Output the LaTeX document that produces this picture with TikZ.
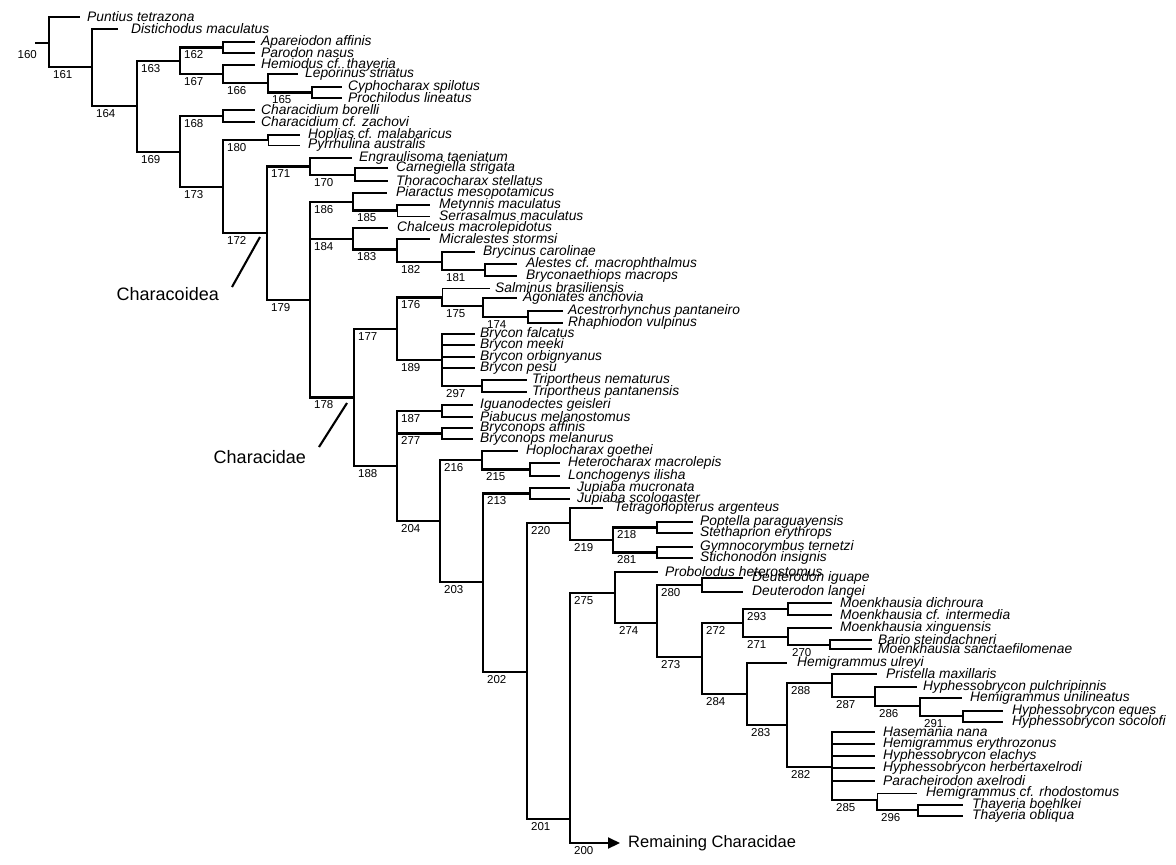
\documentclass[tikz,border=0pt]{standalone}
\usepackage{fontspec}
\setmainfont{Liberation Sans}
\usetikzlibrary{arrows.meta}
\newcommand\cbr[3]{\draw[br] (#1) |- (#2); \node[nlab] (l#3) at (#1 |- #2) {#3};}
\newcommand\clf[7][br]{\node[leaf, inner xsep=#6pt] (#2) at (#4,#5) {#7}; \draw[#1] (#3) |- (#2.west);}
\begin{document}
\begin{tikzpicture}[x=1pt,y=-1pt,
 br/.style={line width=2.1pt},
 thinbr/.style={line width=1pt},
 leaf/.style={anchor=west, inner ysep=0pt, font=\fontsize{13.8}{14}\selectfont\itshape},
 nlab/.style={anchor=north west, inner sep=0pt, xshift=4pt, yshift=-3pt, font=\fontsize{11.5}{12}\selectfont},
 big/.style={font=\fontsize{18}{18}\selectfont, inner sep=0pt},
 ptr/.style={line width=2.1pt}]
\useasboundingbox[fill=white] (0,0) rectangle (1176,865);
% internal nodes
\coordinate (root) at (35,43);
\coordinate (n160) at (49,43);
\coordinate (n161) at (92,67);
\coordinate (n164) at (137,106);
\coordinate (n163) at (180,61);
\coordinate (n162) at (223,47.5);
\coordinate (n167) at (223,74);
\coordinate (n166) at (268,83);
\coordinate (n165) at (312,92.5);
\coordinate (n169) at (180,152);
\coordinate (n168) at (223,116);
\coordinate (n173) at (223,187);
\coordinate (n180) at (268,140);
\coordinate (n172) at (267,233);
\coordinate (n171) at (310,166.5);
\coordinate (n170) at (355,175);
\coordinate (n179) at (310,300);
\coordinate (n186) at (353,202);
\coordinate (n185) at (397,210.5);
\coordinate (n184) at (353,239);
\coordinate (n183) at (397,249.5);
\coordinate (n182) at (442,262);
\coordinate (n181) at (485,270);
\coordinate (n178) at (354,397.5);
\coordinate (n177) at (397,329);
\coordinate (n176) at (442,297.5);
\coordinate (n175) at (483,306);
\coordinate (n174) at (528,317);
\coordinate (n189) at (442,360);
\coordinate (n297) at (482,386);
\coordinate (n188) at (397,466);
\coordinate (n187) at (442,411);
\coordinate (n277) at (442,433.5);
\coordinate (n204) at (440,521);
\coordinate (n216) at (482,460);
\coordinate (n215) at (530,469.5);
\coordinate (n203) at (483,582);
\coordinate (n213) at (530,493.5);
\coordinate (n202) at (527,672);
\coordinate (n220) at (570,523);
\coordinate (n219) at (613,540);
\coordinate (n218) at (657,527.5);
\coordinate (n281) at (657,552.5);
\coordinate (n201) at (570,819);
\coordinate (n275) at (615,593);
\coordinate (n274) at (657,623);
\coordinate (n280) at (702,585);
\coordinate (n273) at (702,657);
\coordinate (n272) at (743,623);
\coordinate (n293) at (788,609);
\coordinate (n271) at (788,637);
\coordinate (n270) at (830,645);
\coordinate (n284) at (747,694);
\coordinate (n283) at (787,725);
\coordinate (n288) at (832,683);
\coordinate (n287) at (875,697);
\coordinate (n286) at (920,706);
\coordinate (n291) at (963,716);
\coordinate (n282) at (832,767);
\coordinate (n285) at (877,800);
\coordinate (n296) at (918,810);
% root
\draw[br] (root) -- (n160);
\node[nlab, anchor=north east, xshift=-2pt, yshift=-4pt] (l160) at (root) {160};
% branches
\cbr{n160}{n161}{161}
\cbr{n161}{n164}{164}
\cbr{n164}{n163}{163}
\cbr{n163}{n162}{162}
\cbr{n163}{n167}{167}
\cbr{n167}{n166}{166}
\cbr{n166}{n165}{165}
\cbr{n164}{n169}{169}
\cbr{n169}{n168}{168}
\cbr{n169}{n173}{173}
\cbr{n173}{n180}{180}
\cbr{n173}{n172}{172}
\cbr{n172}{n171}{171}
\cbr{n171}{n170}{170}
\cbr{n172}{n179}{179}
\cbr{n179}{n186}{186}
\cbr{n186}{n185}{185}
\cbr{n179}{n184}{184}
\cbr{n184}{n183}{183}
\cbr{n183}{n182}{182}
\cbr{n182}{n181}{181}
\cbr{n179}{n178}{178}
\cbr{n178}{n177}{177}
\cbr{n177}{n176}{176}
\cbr{n176}{n175}{175}
\cbr{n175}{n174}{174}
\cbr{n177}{n189}{189}
\cbr{n189}{n297}{297}
\cbr{n178}{n188}{188}
\cbr{n188}{n187}{187}
\cbr{n188}{n277}{277}
\cbr{n188}{n204}{204}
\cbr{n204}{n216}{216}
\cbr{n216}{n215}{215}
\cbr{n204}{n203}{203}
\cbr{n203}{n213}{213}
\cbr{n203}{n202}{202}
\cbr{n202}{n220}{220}
\cbr{n220}{n219}{219}
\cbr{n219}{n218}{218}
\cbr{n219}{n281}{281}
\cbr{n202}{n201}{201}
\cbr{n201}{n275}{275}
\cbr{n275}{n274}{274}
\cbr{n274}{n280}{280}
\cbr{n274}{n273}{273}
\cbr{n273}{n272}{272}
\cbr{n272}{n293}{293}
\cbr{n272}{n271}{271}
\cbr{n271}{n270}{270}
\cbr{n273}{n284}{284}
\cbr{n284}{n283}{283}
\cbr{n283}{n288}{288}
\cbr{n288}{n287}{287}
\cbr{n287}{n286}{286}
\cbr{n286}{n291}{291}
\cbr{n283}{n282}{282}
\cbr{n282}{n285}{285}
\cbr{n285}{n296}{296}
% leaves
\clf{t1}{n160}{80}{17}{7}{Puntius tetrazona}
\clf{t2}{n161}{118}{29}{13}{Distichodus maculatus}
\clf{t3}{n162}{255}{42}{6}{Apareiodon affinis}
\clf{t4}{n162}{255}{53}{6}{Parodon nasus}
\clf{t5}{n167}{255}{65}{6}{Hemiodus cf. thayeria}
\clf{t6}{n166}{298}{74}{7}{Leporinus striatus}
\clf{t7}{n165}{342}{87}{6}{Cyphocharax spilotus}
\clf{t8}{n165}{342}{98}{6}{Prochilodus lineatus}
\clf{t9}{n168}{255}{110}{6}{Characidium borelli}
\clf{t10}{n168}{255}{122}{6}{Characidium cf. zachovi}
\clf{t11}{n180}{300}{135}{8}{Hoplias cf. malabaricus}
\clf[thinbr]{t12}{n180}{300}{145}{8}{Pyrrhulina australis}
\clf{t13}{n171}{352}{158}{7}{Engraulisoma taeniatum}
\clf{t14}{n170}{388}{168}{8}{Carnegiella strigata}
\clf{t15}{n170}{388}{181}{8}{Thoracocharax stellatus}
\clf{t16}{n186}{387}{193}{9}{Piaractus mesopotamicus}
\clf{t17}{n185}{430}{205}{9}{Metynnis maculatus}
\clf[thinbr]{t18}{n185}{430}{216}{9}{Serrasalmus maculatus}
\clf{t19}{n184}{388}{228}{9}{Chalceus macrolepidotus}
\clf{t20}{n183}{430}{239}{9}{Micralestes stormsi}
\clf{t21}{n182}{475}{252}{8}{Brycinus carolinae}
\clf{t22}{n181}{517}{264}{9}{Alestes cf. macrophthalmus}
\clf{t23}{n181}{517}{276}{9}{Bryconaethiops macrops}
\clf[thinbr]{t24}{n176}{490}{288}{5}{Salminus brasiliensis}
\clf{t25}{n175}{517}{298}{6}{Agoniates anchovia}
\clf{t26}{n174}{563}{311}{5}{Acestrorhynchus pantaneiro}
\clf{t27}{n174}{563}{323}{5}{Rhaphiodon vulpinus}
\clf{t28}{n189}{475}{334}{5}{Brycon falcatus}
\clf{t29}{n189}{475}{345}{5}{Brycon meeki}
\clf{t30}{n189}{475}{357}{5}{Brycon orbignyanus}
\clf{t31}{n189}{475}{368}{5}{Brycon pesu}
\clf{t32}{n297}{527}{380}{5}{Triportheus nematurus}
\clf{t33}{n297}{527}{392}{5}{Triportheus pantanensis}
\clf{t34}{n187}{473}{405}{7}{Iguanodectes geisleri}
\clf{t35}{n187}{473}{417}{7}{Piabucus melanostomus}
\clf{t36}{n277}{473}{428}{7}{Bryconops affinis}
\clf{t37}{n277}{473}{439}{7}{Bryconops melanurus}
\clf{t38}{n216}{518}{451}{8}{Hoplocharax goethei}
\clf{t39}{n215}{560}{463}{8}{Heterocharax macrolepis}
\clf{t40}{n215}{560}{476}{8}{Lonchogenys ilisha}
\clf{t41}{n213}{570}{488}{7}{Jupiaba mucronata}
\clf{t42}{n213}{570}{499}{7}{Jupiaba scologaster}
\clf{t43}{n220}{603}{508}{11}{Tetragonopterus argenteus}
\clf{t44}{n218}{693}{522}{7}{Poptella paraguayensis}
\clf{t45}{n218}{693}{533}{7}{Stethaprion erythrops}
\clf{t46}{n281}{693}{547}{7}{Gymnocorymbus ternetzi}
\clf{t47}{n281}{693}{558}{7}{Stichonodon insignis}
\clf{t48}{n275}{658}{572}{7}{Probolodus heterostomus}
\clf{t49}{n280}{743}{578}{9}{Deuterodon iguape}
\clf{t50}{n280}{743}{592}{9}{Deuterodon langei}
\clf{t51}{n293}{832}{603}{8}{Moenkhausia dichroura}
\clf{t52}{n293}{832}{615}{8}{Moenkhausia cf. intermedia}
\clf{t53}{n271}{832}{628}{8}{Moenkhausia xinguensis}
\clf{t54}{n270}{872}{640}{6}{Bario steindachneri}
\clf{t55}{n270}{872}{649}{6}{Moenkhausia sanctaefilomenae}
\clf{t56}{n284}{787}{663}{10}{Hemigrammus ulreyi}
\clf{t57}{n288}{877}{674}{9}{Pristella maxillaris}
\clf{t58}{n287}{917}{687}{6}{Hyphessobrycon pulchripinnis}
\clf{t59}{n286}{962}{698}{8}{Hemigrammus unilineatus}
\clf{t60}{n291}{1003}{711}{9}{Hyphessobrycon eques}
\clf{t61}{n291}{1003}{722}{9}{Hyphessobrycon socolofi}
\clf{t62}{n282}{875}{732}{8}{Hasemania nana}
\clf{t63}{n282}{875}{744}{8}{Hemigrammus erythrozonus}
\clf{t64}{n282}{875}{756}{8}{Hyphessobrycon elachys}
\clf{t65}{n282}{875}{768}{8}{Hyphessobrycon herbertaxelrodi}
\clf{t66}{n282}{875}{781}{8}{Paracheirodon axelrodi}
\clf[thinbr]{t67}{n285}{917}{793}{9}{Hemigrammus cf. rhodostomus}
\clf{t68}{n296}{963}{805}{9}{Thayeria boehlkei}
\clf{t69}{n296}{963}{816}{9}{Thayeria obliqua}
% remaining Characidae
\node[big, anchor=west, inner xsep=8pt, font=\fontsize{16.5}{17}\selectfont] (rem) at (620,843) {Remaining Characidae};
\draw[br, -{Triangle[length=12pt, width=11pt]}] (n201) |- (rem.west);
\node[nlab] (l200) at (n201 |- rem.west) {200};
% clade pointers
\node[big, anchor=north east] (characoidea) at (219,287) {Characoidea};
\coordinate (pa1) at (260,237);
\coordinate (pa2) at (232,287);
\draw[ptr] (pa1) -- (pa2);
\node[big, anchor=north east] (characidae) at (306,450) {Characidae};
\coordinate (pb1) at (347,403);
\coordinate (pb2) at (319,447);
\draw[ptr] (pb1) -- (pb2);
\end{tikzpicture}
\end{document}
